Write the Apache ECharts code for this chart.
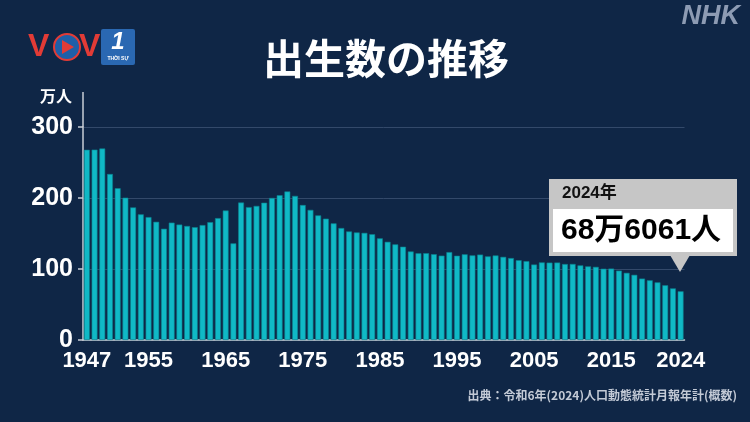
<!DOCTYPE html>
<html>
<head>
<meta charset="utf-8">
<script src="https://cdn.jsdelivr.net/npm/echarts@6/dist/echarts.min.js"></script>
<style>
html,body{margin:0;padding:0;background:#0f2646;}
#c{width:750px;height:422px;}
</style>
</head>
<body>
<div id="c"></div>
<script>
// Years 1947–2024
const years = [];
for (let y = 1947; y <= 2024; y++) years.push(String(y));
// Births (万人)
const births = [
  267.9, 268.2, 269.7, 233.8, 213.8, 200.5, 186.8, 177.0, 173.1, 166.5,
  156.7, 165.3, 162.6, 160.6, 158.9, 161.9, 166.0, 171.7, 182.4, 136.1,
  193.6, 187.2, 188.9, 193.4, 200.1, 203.9, 209.2, 203.0, 190.1, 183.3,
  175.5, 170.9, 164.3, 157.7, 152.9, 151.5, 150.9, 149.0, 143.2, 138.3,
  134.7, 131.4, 124.7, 122.2, 122.3, 120.9, 118.8, 123.8, 118.7, 120.7,
  119.2, 120.3, 117.8, 119.1, 117.1, 115.4, 112.4, 111.1, 106.3, 109.3,
  109.0, 109.1, 107.0, 107.1, 105.1, 103.7, 103.0, 100.4, 100.6, 97.7,
  94.6, 91.8, 86.5, 84.1, 81.2, 77.1, 72.7, 68.6
];
const tickYears = ['1947','1955','1965','1975','1985','1995','2005','2015','2024'];
const yTicks = [0, 100, 200, 300];
const titleText = '出生数の推移';
const unitText = '万人';
const calloutYear = '2024年';
const calloutValue = '68万6061人';
const sourceText = '出典：令和6年(2024)人口動態統計月報年計(概数)';

const FONT = '"Liberation Sans", "Noto Sans CJK JP", sans-serif';
const JP = '"Noto Sans CJK JP", sans-serif';

const chart = echarts.init(document.getElementById('c'));
const G = (o) => Object.assign({ z: 100 }, o);
const option = {
  backgroundColor: '#0f2646',
  animation: false,
  grid: { left: 83, right: 65.5, top: 127, bottom: 82 },
  xAxis: {
    type: 'category',
    data: years,
    axisLine: { lineStyle: { color: '#c9ced6', width: 1.5 } },
    axisTick: {
      alignWithLabel: true,
      length: 5,
      lineStyle: { color: '#c9ced6', width: 1.5 },
      interval: (i, v) => tickYears.includes(v)
    },
    axisLabel: {
      interval: (i, v) => tickYears.includes(v),
      color: '#ffffff',
      fontFamily: FONT,
      fontWeight: 'bold',
      fontSize: 22,
      margin: 10
    }
  },
  yAxis: {
    type: 'value',
    min: yTicks[0],
    max: yTicks[yTicks.length - 1],
    interval: 100,
    axisLine: { show: true, lineStyle: { color: '#c9ced6', width: 1.5 } },
    axisTick: { show: true, length: 5, lineStyle: { color: '#c9ced6', width: 1.5 } },
    axisLabel: {
      color: '#ffffff',
      fontFamily: FONT,
      fontWeight: 'bold',
      fontSize: 25,
      margin: 10
    },
    splitLine: { lineStyle: { color: '#33496a', width: 1 } }
  },
  series: [{
    type: 'bar',
    data: births,
    barCategoryGap: '24%',
    itemStyle: { color: '#10b9c6', borderColor: '#0b7f8c', borderWidth: 0.6 }
  }],
  graphic: [
    // y axis extension above 300
    G({ type: 'line', shape: { x1: 83, y1: 92, x2: 83, y2: 127 }, style: { stroke: '#c9ced6', lineWidth: 1.5 } }),
    G({ type: 'text', left: 40, top: 88, style: { text: unitText, fill: '#ffffff', font: 'bold 16px ' + JP } }),
    // title
    G({ type: 'text', x: 386, y: 58, style: { text: titleText, fill: '#ffffff', font: 'bold 41px ' + JP, align: 'center', verticalAlign: 'middle' } }),
    // NHK mark
    G({ type: 'text', x: 740, y: 17, style: { text: 'NHK', fill: '#8d9bb3', font: 'italic bold 27px "Liberation Sans", sans-serif', align: 'right', verticalAlign: 'middle' } }),
    // VOV logo
    G({ type: 'text', x: 28, y: 47, style: { text: 'V', fill: '#e23b36', font: 'bold 32px "Liberation Sans", sans-serif', verticalAlign: 'middle' } }),
    G({ type: 'circle', shape: { cx: 67, cy: 47, r: 13 }, style: { fill: '#1f5fa8', stroke: '#e23b36', lineWidth: 2 } }),
    G({ type: 'polygon', shape: { points: [[62, 40], [62, 54], [74, 47]] }, style: { fill: '#e23b36' } }),
    G({ type: 'text', x: 79, y: 47, style: { text: 'V', fill: '#e23b36', font: 'bold 32px "Liberation Sans", sans-serif', verticalAlign: 'middle' } }),
    G({ type: 'rect', shape: { x: 101, y: 29, width: 34, height: 36, r: 2 }, style: { fill: '#2a68b2' } }),
    G({ type: 'text', x: 118, y: 42, style: { text: '1', fill: '#ffffff', font: 'italic bold 24px "Liberation Sans", sans-serif', align: 'center', verticalAlign: 'middle' } }),
    G({ type: 'text', x: 118, y: 59, style: { text: 'THỜI SỰ', fill: '#ffffff', font: 'bold 5px "Liberation Sans", sans-serif', align: 'center', verticalAlign: 'middle' } }),
    // callout
    G({ type: 'rect', shape: { x: 549, y: 179, width: 188, height: 77 }, style: { fill: '#c6c6c6' } }),
    G({ type: 'polygon', shape: { points: [[670, 255], [690, 255], [680, 272]] }, style: { fill: '#c6c6c6' } }),
    G({ type: 'rect', shape: { x: 553, y: 209, width: 180, height: 43 }, style: { fill: '#ffffff' } }),
    G({ type: 'text', x: 562, y: 193, style: { text: calloutYear, fill: '#111111', font: 'bold 17px ' + FONT, verticalAlign: 'middle' } }),
    G({ type: 'text', x: 561, y: 231, style: { text: calloutValue, fill: '#000000', font: 'bold 30px ' + FONT, verticalAlign: 'middle' } }),
    // source
    G({ type: 'text', x: 737, y: 395, style: { text: sourceText, fill: '#c3cad6', font: 'bold 12px ' + JP, align: 'right', verticalAlign: 'middle' } })
  ]
};
chart.setOption(option);
</script>
</body>
</html>
